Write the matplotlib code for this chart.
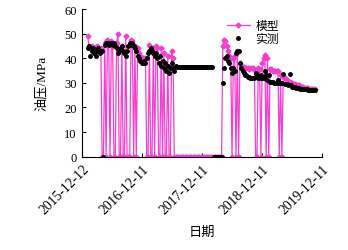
import numpy as np
import pandas as pd
import matplotlib
matplotlib.use("Agg")
import matplotlib.pyplot as plt
import matplotlib.transforms as mtransforms

# sample dates: every 8 days starting 2016-01-13
start = "2016-01-13"

model = [
    49, 45, 44, 45, 44, 43, 44, 45, 44, 43, 44,
    0, 0, 46, 0, 47.5, 46, 0, 47, 45, 0, 0, 46, 50, 0, 0, 45, 0, 0, 49,
    0, 0, 0, 47.5, 47, 0, 45, 0, 44, 42, 41, 40, 40, 39, 40,
    0, 0, 45.5, 0, 0, 44, 0, 45, 44, 0, 0, 44, 0, 42, 0, 0, 41, 0, 0, 43, 40, 0,
    0, 0, 0, 0, 0, 0, 0, 0, 0, 0, 0, 0, 0, 0, 0, 0, 0, 0,
    0, 0, 0, 0, 0, 0, 0, 0, 0, 0, 0, 0, 0, 0, 0, 0, 0, 0,
    45, 47.5, 47, 45, 43, 41, 40, 0, 40, 41, 0, 42, 0,
    38, 37, 36.5, 36.5, 36, 36, 36, 35.5, 36, 36, 36, 35.5, 0,
    0, 36, 35.5, 0, 38, 40, 41.5, 0, 40, 0,
    35.5, 35.5, 35, 35, 35, 35, 35, 0, 33, 0,
    32.5, 32, 31.5, 31, 30.5, 30.5, 30, 30, 29.5, 29.5, 29, 29, 29,
    28.5, 28.5, 28.5, 28, 28, 28, 28, 27.5, 27.5, 27.5, 27.5, 27.5,
]

measured = [
    44, 45, 41, 43, 44, 42, 41, 43, 44, 42, 43,
    43, 0, 45.5, 46, 46, 45.5, 46, 46, 45.5, 46, 45,
    44, 42, 43, 44, 45, 43, 42, 41,
    43, 45, 46, 45.5, 46, 45,
    44, 43, 41, 40, 39, 38, 38, 39, 38,
    40, 42, 43, 44, 43, 42, 41,
    42, 40, 38, 41, 37, 39, 36, 38, 35, 37, 34, 36, 38, 36, 35, 37,
    36.5, 36.5, 36.5, 36.5, 36.5, 36.5, 36.5, 36.5, 36.5, 36.5,
    36.5, 36.5, 36.5, 36.5, 36.5, 36.5, 36.5, 36.5, 36.5, 36.5,
    36.5, 36.5, 36.5, 36.5, 36.5, 36.5, 36.5, 36.5,
    0, 0, 0, 0, 0, 0, 0,
    30, 36, 40, 41, 39, 38, 36, 34, 36, 35, 42, 43, 43,
    38, 36, 35, 34, 33, 33, 32.5, 32.5, 32, 32, 32, 32,
    34, 33, 32, 32, 33, 32, 32, 35, 33, 31, 33,
    30.5, 30.5, 30.5, 30, 30, 30, 31, 30, 30, 30, 33.5,
    29.5, 29.5, 29.5, 29, 33.5, 29, 28.5, 28.5, 28.5, 28, 28, 28,
    27.5, 27.5, 27.5, 27.5, 27.5, 27.5, 27, 27, 27, 27, 27, 27,
]

tick_dates = ["2015-12-12", "2016-12-11", "2017-12-11", "2018-12-11", "2019-12-11"]

dates_m = pd.date_range(start, periods=len(model), freq="8D")
dates_s = pd.date_range(start, periods=len(measured), freq="8D")

plt.rcParams["font.family"] = ["Liberation Serif", "Noto Sans CJK SC"]
plt.rcParams["font.size"] = 9

fig = plt.figure(figsize=(3.48, 2.51), dpi=100)
ax = fig.add_axes([0.237, 0.372, 0.688, 0.588])

ax.plot(dates_m, model, color="#F23FD0", lw=0.9, marker="D", ms=2.5,
        label="模型")
ax.plot(dates_s, measured, color="black", ls="none", marker="o", ms=2.5,
        label="实测")

ticks = pd.to_datetime(tick_dates)
ax.set_xlim(ticks[0], ticks[-1])
ax.set_xticks(ticks)
ax.set_xticklabels(tick_dates, rotation=45, ha="right", rotation_mode="anchor",
                   fontsize=9.8)
# shift the slanted date labels the way the original sits them
shift = mtransforms.ScaledTranslation(0.14, -0.11, fig.dpi_scale_trans)
for lab in ax.get_xticklabels():
    lab.set_transform(lab.get_transform() + shift)

ax.set_ylim(0, 60)
ax.set_yticks(range(0, 61, 10))
ax.tick_params(direction="in", length=3, width=0.8, pad=4)
ax.tick_params(axis="y", labelsize=9)
ax.spines["top"].set_visible(False)
ax.spines["right"].set_visible(False)

ax.set_ylabel("油压/MPa", fontsize=9.5, labelpad=12)
ax.set_xlabel("日期", fontsize=9.5, labelpad=6,
              fontfamily=["Noto Sans CJK SC"])

ax.legend(loc="upper left", bbox_to_anchor=(0.57, 0.99), frameon=False,
          handlelength=1.9, labelspacing=0.0, borderpad=0.2,
          handletextpad=0.5, prop={"family": ["Noto Sans CJK SC"], "size": 8.5})

fig.savefig("out.png", dpi=100)
